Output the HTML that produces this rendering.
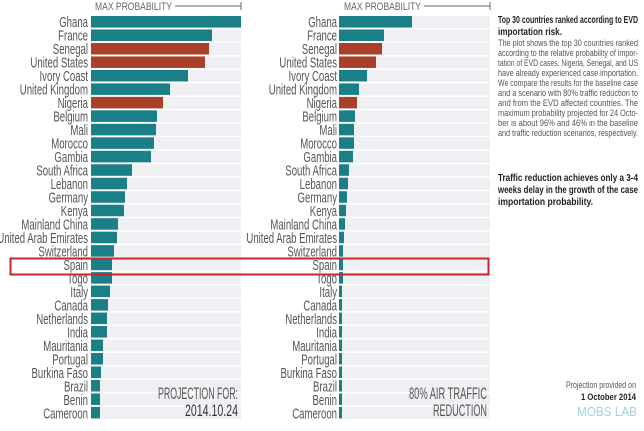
<!DOCTYPE html><html><head><meta charset="utf-8"><style>
body{margin:0;background:#fff;width:644px;height:426px;overflow:hidden}
svg{font-family:"Liberation Sans",sans-serif}
.l text{font-size:15px;fill:#555;text-anchor:end}
</style></head><body>
<svg id="s" width="644" height="426" xmlns="http://www.w3.org/2000/svg">
<g id="bg"></g><g id="bars"></g>
<text x="95" y="10" font-size="11" fill="#666" textLength="77" lengthAdjust="spacingAndGlyphs">MAX PROBABILITY</text>
<line x1="175" y1="6" x2="241" y2="6" stroke="#666"/><line x1="241" y1="2" x2="241" y2="10" stroke="#666"/>
<text x="344" y="10" font-size="11" fill="#666" textLength="77" lengthAdjust="spacingAndGlyphs">MAX PROBABILITY</text>
<line x1="424" y1="6" x2="490" y2="6" stroke="#666"/><line x1="490" y1="2" x2="490" y2="10" stroke="#666"/>
<g class="l" transform="translate(88,0) scale(0.64,1)">
<text y="27">Ghana</text><text y="40.5">France</text><text y="54">Senegal</text><text y="67.5">United States</text><text y="81">Ivory Coast</text><text y="94.5">United Kingdom</text><text y="108">Nigeria</text><text y="121.5">Belgium</text><text y="135">Mali</text><text y="148.5">Morocco</text><text y="162">Gambia</text><text y="175.5">South Africa</text><text y="189">Lebanon</text><text y="202.5">Germany</text><text y="216">Kenya</text><text y="229.5">Mainland China</text><text y="243">United Arab Emirates</text><text y="256.5">Switzerland</text><text y="270">Spain</text><text y="283.5">Togo</text><text y="297">Italy</text><text y="310.5">Canada</text><text y="324">Netherlands</text><text y="337.5">India</text><text y="351">Mauritania</text><text y="364.5">Portugal</text><text y="378">Burkina Faso</text><text y="391.5">Brazil</text><text y="405">Benin</text><text y="418.5">Cameroon</text>
</g>
<g class="l" transform="translate(337,0) scale(0.64,1)">
<text y="27">Ghana</text><text y="40.5">France</text><text y="54">Senegal</text><text y="67.5">United States</text><text y="81">Ivory Coast</text><text y="94.5">United Kingdom</text><text y="108">Nigeria</text><text y="121.5">Belgium</text><text y="135">Mali</text><text y="148.5">Morocco</text><text y="162">Gambia</text><text y="175.5">South Africa</text><text y="189">Lebanon</text><text y="202.5">Germany</text><text y="216">Kenya</text><text y="229.5">Mainland China</text><text y="243">United Arab Emirates</text><text y="256.5">Switzerland</text><text y="270">Spain</text><text y="283.5">Togo</text><text y="297">Italy</text><text y="310.5">Canada</text><text y="324">Netherlands</text><text y="337.5">India</text><text y="351">Mauritania</text><text y="364.5">Portugal</text><text y="378">Burkina Faso</text><text y="391.5">Brazil</text><text y="405">Benin</text><text y="418.5">Cameroon</text>
</g>
<text x="158" y="399" font-size="17" fill="#555" textLength="80" lengthAdjust="spacingAndGlyphs">PROJECTION FOR:</text>
<text x="185" y="416" font-size="17" fill="#333" textLength="53" lengthAdjust="spacingAndGlyphs">2014.10.24</text>
<text x="409" y="399" font-size="17" fill="#555" textLength="78" lengthAdjust="spacingAndGlyphs">80% AIR TRAFFIC</text>
<text x="433" y="416" font-size="17" fill="#555" textLength="54" lengthAdjust="spacingAndGlyphs">REDUCTION</text>
<rect x="10.5" y="258.5" width="478" height="16" fill="none" stroke="#c8262b" stroke-width="2"/>
<g font-size="9" fill="#555">
<text x="498" y="23" font-size="10.5" fill="#222" font-weight="bold" textLength="140" lengthAdjust="spacingAndGlyphs">Top 30 countries ranked according to EVD</text>
<text x="498" y="35" font-size="10.5" fill="#222" font-weight="bold" textLength="64" lengthAdjust="spacingAndGlyphs">importation risk.</text>
<text x="498" y="46" textLength="140" lengthAdjust="spacingAndGlyphs">The plot shows the top 30 countries ranked</text>
<text x="498" y="56" textLength="140" lengthAdjust="spacingAndGlyphs">according to the relative probability of impor-</text>
<text x="498" y="66" textLength="140" lengthAdjust="spacingAndGlyphs">tation of EVD cases. Nigeria, Senegal, and US</text>
<text x="498" y="76" textLength="140" lengthAdjust="spacingAndGlyphs">have already experienced case importation.</text>
<text x="498" y="86" textLength="140" lengthAdjust="spacingAndGlyphs">We compare the results for the baseline case</text>
<text x="498" y="96" textLength="140" lengthAdjust="spacingAndGlyphs">and a scenario with 80% traffic reduction to</text>
<text x="498" y="106" textLength="140" lengthAdjust="spacingAndGlyphs">and from the EVD affected countries. The</text>
<text x="498" y="116" textLength="140" lengthAdjust="spacingAndGlyphs">maximum probability projected for 24 Octo-</text>
<text x="498" y="126" textLength="140" lengthAdjust="spacingAndGlyphs">ber is about 96% and 46% in the baseline</text>
<text x="498" y="136" textLength="140" lengthAdjust="spacingAndGlyphs">and traffic reduction scenarios, respectively.</text>
</g>
<g font-size="10" fill="#222" font-weight="bold">
<text x="498" y="181" textLength="140" lengthAdjust="spacingAndGlyphs">Traffic reduction achieves only a 3-4</text>
<text x="498" y="193" textLength="140" lengthAdjust="spacingAndGlyphs">weeks delay in the growth of the case</text>
<text x="498" y="205" textLength="95" lengthAdjust="spacingAndGlyphs">importation probability.</text>
</g>
<text x="566" y="388" font-size="9" fill="#555" textLength="70" lengthAdjust="spacingAndGlyphs">Projection provided on</text>
<text x="581" y="400" font-size="9.5" fill="#222" font-weight="bold" textLength="55" lengthAdjust="spacingAndGlyphs">1 October 2014</text>
<text x="577" y="416" font-size="13" fill="#9fd3dc" textLength="60" lengthAdjust="spacingAndGlyphs">MOBS LAB</text>
</svg>
<script>
var L=[241,212,209,205,188,170,163,157,156,154,151,132,127,125,124,118,117,114,112,112,110,108,107,107,103,103,101,100,100,100];
var R=[412,384,382,376,367,359,357,355,354,354,353,349,348,347,346,345,344,343,343,343,342,342,342,342,342,342,342,342,342,342];
var red=[2,3,6],ns="http://www.w3.org/2000/svg",bg=document.getElementById('bg'),b=document.getElementById('bars');
function r(g,x,y,w,h,f){var e=document.createElementNS(ns,'rect');e.setAttribute('x',x);e.setAttribute('y',y);e.setAttribute('width',w);e.setAttribute('height',h);e.setAttribute('fill',f);g.appendChild(e);}
for(var i=0;i<30;i++){var y=16+i*13.48;
r(bg,91,y,150,12,'#eef0f3');r(bg,340,y,150,12,'#eef0f3');
var c=red.indexOf(i)>=0?'#a8402a':'#1a7f86';
r(b,91,y,L[i]-91,11.5,c);r(b,339,y,R[i]-339,11.5,c);}
</script>
</body></html>
